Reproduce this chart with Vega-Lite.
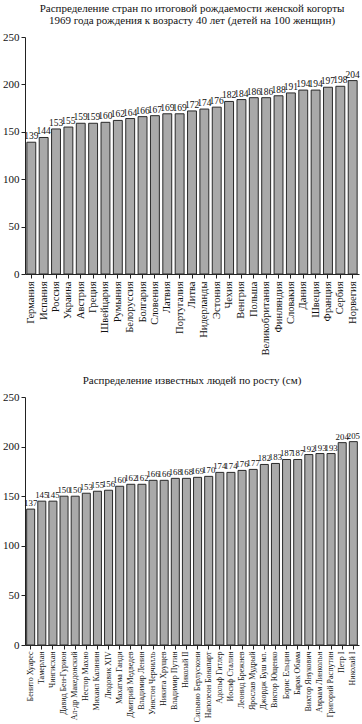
{
  "$schema": "https://vega.github.io/schema/vega-lite/v6.json",
  "padding": {"left": 2, "top": 3, "right": 3, "bottom": 0},
  "spacing": 20,
  "config": {
    "font": "Liberation Serif, Times New Roman, serif",
    "view": {"stroke": null},
    "axis": {"grid": false, "domainColor": "#222", "tickColor": "#222", "labelColor": "#111", "labelFont": "Liberation Serif, Times New Roman, serif", "titleFont": "Liberation Serif, serif"},
    "title": {"font": "Liberation Serif, Times New Roman, serif", "fontWeight": "normal", "fontSize": 11, "color": "#111", "offset": 5},
    "text": {"font": "Liberation Serif, Times New Roman, serif"}
  },
  "datasets": {
    "countries": [
      {"name": "Германия", "value": 139}, {"name": "Испания", "value": 144}, {"name": "Россия", "value": 153},
      {"name": "Украина", "value": 155}, {"name": "Австрия", "value": 159}, {"name": "Греция", "value": 159},
      {"name": "Швейцария", "value": 160}, {"name": "Румыния", "value": 162}, {"name": "Белоруссия", "value": 164},
      {"name": "Болгария", "value": 166}, {"name": "Словения", "value": 167}, {"name": "Латвия", "value": 169},
      {"name": "Португалия", "value": 169}, {"name": "Литва", "value": 172}, {"name": "Нидерланды", "value": 174},
      {"name": "Эстония", "value": 176}, {"name": "Чехия", "value": 182}, {"name": "Венгрия", "value": 184},
      {"name": "Польша", "value": 186}, {"name": "Великобритания", "value": 186}, {"name": "Финляндия", "value": 188},
      {"name": "Словакия", "value": 191}, {"name": "Дания", "value": 194}, {"name": "Швеция", "value": 194},
      {"name": "Франция", "value": 197}, {"name": "Сербия", "value": 198}, {"name": "Норвегия", "value": 204}
    ],
    "people": [
      {"name": "Бенито Хуарес", "value": 137}, {"name": "Тамерлан", "value": 145}, {"name": "Чингисхан", "value": 145},
      {"name": "Давид Бен-Гурион", "value": 150}, {"name": "Ал-др Македонский", "value": 150}, {"name": "Нестор Махно", "value": 153},
      {"name": "Михаил Калинин", "value": 155}, {"name": "Людовик XIV", "value": 156}, {"name": "Махатма Ганди", "value": 160},
      {"name": "Дмитрий Медведев", "value": 162}, {"name": "Владимир Ленин", "value": 162}, {"name": "Уинстон Черчилль", "value": 166},
      {"name": "Никита Хрущев", "value": 166}, {"name": "Владимир Путин", "value": 168}, {"name": "Николай II", "value": 168},
      {"name": "Сильвио Берлускони", "value": 169}, {"name": "Наполеон Бонапарт", "value": 170}, {"name": "Адольф Гитлер", "value": 174},
      {"name": "Иосиф Сталин", "value": 174}, {"name": "Леонид Брежнев", "value": 176}, {"name": "Ярослав Мудрый", "value": 177},
      {"name": "Джордж Буш мл.", "value": 182}, {"name": "Виктор Ющенко", "value": 183}, {"name": "Борис Ельцин", "value": 187},
      {"name": "Барак Обама", "value": 187}, {"name": "Виктор Янукович", "value": 192}, {"name": "Авраам Линкольн", "value": 193},
      {"name": "Григорий Распутин", "value": 193}, {"name": "Петр I", "value": 204}, {"name": "Николай I", "value": 205}
    ]
  },
  "vconcat": [
    {
      "title": {"text": ["Распределение стран по итоговой рождаемости женской когорты", "1969 года рождения к возрасту 40 лет (детей на 100 женщин)"], "lineHeight": 12},
      "width": 334,
      "height": 237,
      "data": {"name": "countries"},
      "encoding": {
        "x": {"field": "name", "type": "nominal", "sort": null, "title": null,
              "scale": {"paddingInner": 0.28, "paddingOuter": 0.15},
              "axis": {"labelAngle": -90, "labelFontSize": 10.5, "tickSize": 4, "labelPadding": 3}},
        "y": {"field": "value", "type": "quantitative", "title": null,
              "scale": {"domain": [0, 250], "nice": false},
              "axis": {"values": [0, 50, 100, 150, 200, 250], "labelFontSize": 11, "tickSize": 4, "labelPadding": 2}}
      },
      "layer": [
        {"mark": {"type": "bar", "fill": "#a9a9a9", "stroke": "#2a2a2a", "strokeWidth": 1}},
        {"mark": {"type": "text", "baseline": "bottom", "dy": -1, "fontSize": 9.5, "color": "#111", "letterSpacing": -0.4},
         "encoding": {"text": {"field": "value", "type": "quantitative"}}}
      ]
    },
    {
      "title": {"text": "Распределение известных людей по росту (см)"},
      "width": 334,
      "height": 248,
      "data": {"name": "people"},
      "encoding": {
        "x": {"field": "name", "type": "nominal", "sort": null, "title": null,
              "scale": {"paddingInner": 0.28, "paddingOuter": 0.15},
              "axis": {"labelAngle": -90, "labelFontSize": 8, "tickSize": 4, "labelPadding": 2}},
        "y": {"field": "value", "type": "quantitative", "title": null,
              "scale": {"domain": [0, 250], "nice": false},
              "axis": {"values": [0, 50, 100, 150, 200, 250], "labelFontSize": 11, "tickSize": 4, "labelPadding": 2}}
      },
      "layer": [
        {"mark": {"type": "bar", "fill": "#a9a9a9", "stroke": "#2a2a2a", "strokeWidth": 1}},
        {"mark": {"type": "text", "baseline": "bottom", "dy": -1, "fontSize": 8.8, "color": "#111", "letterSpacing": -0.7},
         "encoding": {"text": {"field": "value", "type": "quantitative"}}}
      ]
    }
  ]
}
